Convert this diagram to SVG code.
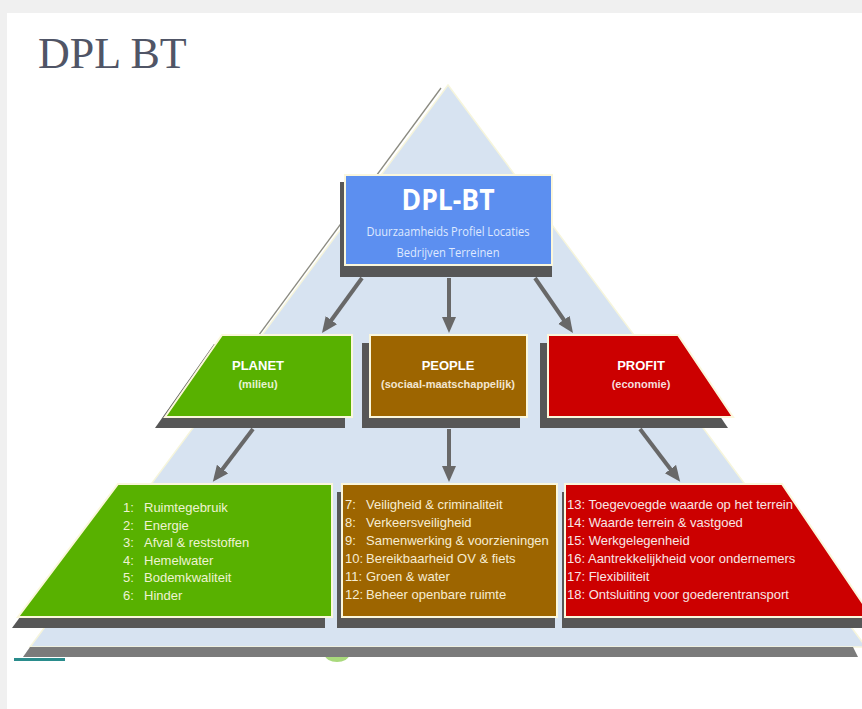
<svg xmlns="http://www.w3.org/2000/svg" width="862" height="709" viewBox="0 0 862 709">
<defs>
<style>
.shadow{fill:#575757}
.box{stroke:#fbf7dc;stroke-width:2}
.green{fill:#58b100}
.brown{fill:#9d6500}
.red{fill:#cc0000}
.blue{fill:#5c8ff0}
.conn{stroke:#686868;stroke-width:4;fill:none;marker-end:url(#ah)}
.hd{font-family:"Liberation Sans",Arial,sans-serif;font-weight:bold;font-size:13px;fill:#ffffff;text-anchor:middle}
.sub{font-family:"Liberation Sans",Arial,sans-serif;font-weight:bold;font-size:11px;text-anchor:middle}
.li{font-family:"Liberation Sans",Arial,sans-serif;font-size:13px}
</style>
<marker id="ah" markerUnits="userSpaceOnUse" markerWidth="18" markerHeight="16" refX="2" refY="7" orient="auto">
<path d="M0,0 L16,7 L0,14 z" fill="#686868"/>
</marker>
</defs>
<rect x="0" y="0" width="862" height="709" fill="#f0f0f0"/>
<rect x="7" y="13" width="855" height="696" fill="#ffffff"/>
<text x="38" y="68" font-family="Liberation Serif,'Times New Roman',serif" font-size="44" fill="#505566">DPL BT</text>
<g id="pyramid">
<ellipse cx="337" cy="655" rx="12" ry="7" fill="#a9d97c"/>
<rect x="14" y="658" width="51" height="3" fill="#2a8c8c"/>
<polygon points="448,85 866,647 30,647" fill="#d7e3f1" stroke="#f6f5dc" stroke-width="1.5"/>
<polygon points="30,647 853,647 858,657 23,657" fill="#7b7b7b"/>
<line x1="441" y1="88" x2="250" y2="347" stroke="#8a8a80" stroke-width="1.3"/>
</g>
<g id="dpl-bt">
<rect class="shadow" x="340" y="182" width="212" height="95"/>
<rect class="box blue" x="345" y="175" width="207" height="90"/>
<text x="448" y="210" font-family="'Open Sans','Noto Sans',sans-serif" font-weight="bold" font-size="28" fill="#ffffff" text-anchor="middle" textLength="93" lengthAdjust="spacingAndGlyphs">DPL-BT</text>
<text x="448" y="236" font-family="'Open Sans','Noto Sans',sans-serif" font-size="12" fill="#dfe9ff" text-anchor="middle" textLength="163" lengthAdjust="spacingAndGlyphs">Duurzaamheids Profiel Locaties</text>
<text x="448" y="257" font-family="'Open Sans','Noto Sans',sans-serif" font-size="12" fill="#dfe9ff" text-anchor="middle" textLength="103" lengthAdjust="spacingAndGlyphs">Bedrijven Terreinen</text>
</g>
<g id="planet">
<polygon class="shadow" points="214,344 345,344 345,428 155,428"/>
<polygon class="box green" points="222,335 352,335 352,417 165,417"/>
<text class="hd" x="258" y="370">PLANET</text>
<text class="sub" x="258" y="388" fill="#e6f3d2">(milieu)</text>
</g>
<g id="people">
<rect class="shadow" x="362" y="343" width="158" height="85"/>
<rect class="box brown" x="370" y="335" width="157" height="82"/>
<text class="hd" x="448" y="370">PEOPLE</text>
<text class="sub" x="448" y="388" fill="#f3e6d0">(sociaal-maatschappelijk)</text>
</g>
<g id="profit">
<polygon class="shadow" points="540,343 670,343 728,428 540,428"/>
<polygon class="box red" points="548,335 678,335 733,417 548,417"/>
<text class="hd" x="641" y="370">PROFIT</text>
<text class="sub" x="641" y="388" fill="#f6dcdc">(economie)</text>
</g>
<g id="planet-list">
<polygon class="shadow" points="110,494 325,494 325,628 12,628"/>
<polygon class="box green" points="118,484 332,484 332,617 18,617"/>
<g class="li" fill="#eef3d2">
<text x="123" y="512">1:</text><text x="144" y="512">Ruimtegebruik</text>
<text x="123" y="529.6">2:</text><text x="144" y="529.6">Energie</text>
<text x="123" y="547.2">3:</text><text x="144" y="547.2">Afval &amp; reststoffen</text>
<text x="123" y="564.8">4:</text><text x="144" y="564.8">Hemelwater</text>
<text x="123" y="582.4">5:</text><text x="144" y="582.4">Bodemkwaliteit</text>
<text x="123" y="600">6:</text><text x="144" y="600">Hinder</text>
</g>
</g>
<g id="people-list">
<rect class="shadow" x="337" y="492" width="218" height="136"/>
<rect class="box brown" x="342" y="484" width="215" height="133"/>
<g class="li" fill="#f6ecd2">
<text x="345" y="509">7:</text><text x="366" y="509">Veiligheid &amp; criminaliteit</text>
<text x="345" y="527">8:</text><text x="366" y="527">Verkeersveiligheid</text>
<text x="345" y="545">9:</text><text x="366" y="545">Samenwerking &amp; voorzieningen</text>
<text x="345" y="563">10:</text><text x="366" y="563">Bereikbaarheid OV &amp; fiets</text>
<text x="345" y="581">11:</text><text x="366" y="581">Groen &amp; water</text>
<text x="345" y="599">12:</text><text x="366" y="599">Beheer openbare ruimte</text>
</g>
</g>
<g id="profit-list">
<polygon class="shadow" points="562,492 780,492 870,628 562,628"/>
<polygon class="box red" points="565,484 782,484 872,617 565,617"/>
<g class="li" fill="#f8e6e6">
<text x="567" y="509">13: Toegevoegde waarde op het terrein</text>
<text x="567" y="527">14: Waarde terrein &amp; vastgoed</text>
<text x="567" y="545">15: Werkgelegenheid</text>
<text x="567" y="563">16: Aantrekkelijkheid voor ondernemers</text>
<text x="567" y="581">17: Flexibiliteit</text>
<text x="567" y="599">18: Ontsluiting voor goederentransport</text>
</g>
</g>
<g id="connectors">
<line class="conn" x1="362" y1="278" x2="330.2" y2="321.7"/>
<line class="conn" x1="449" y1="278" x2="449" y2="319"/>
<line class="conn" x1="535" y1="278" x2="565" y2="321.5"/>
<line class="conn" x1="253" y1="429" x2="221.3" y2="470.7"/>
<line class="conn" x1="449" y1="429" x2="449" y2="468"/>
<line class="conn" x1="640" y1="429" x2="671.7" y2="470.7"/>
</g>
</svg>
